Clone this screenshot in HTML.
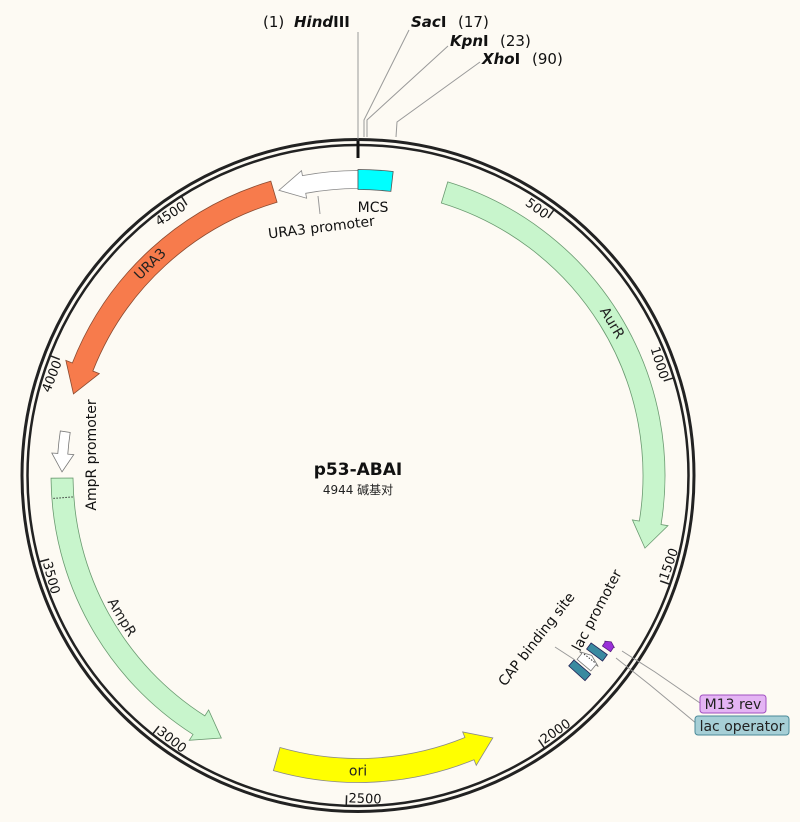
<!DOCTYPE html>
<html><head><meta charset="utf-8">
<style>
html,body{margin:0;padding:0;background:#fdfaf3;}
svg{display:block;font-family:"DejaVu Sans","Liberation Sans","Noto Sans CJK SC",sans-serif;}
</style></head>
<body>
<svg id="s" width="800" height="822" viewBox="0 0 800 822" xmlns="http://www.w3.org/2000/svg">
<rect width="800" height="822" fill="#fdfaf3"/>
<circle cx="358" cy="475.5" r="336" fill="none" stroke="#222" stroke-width="3"/>
<circle cx="358" cy="475.5" r="330.5" fill="none" stroke="#222" stroke-width="2.5"/>
<line x1="358" y1="141" x2="358" y2="158" stroke="#111" stroke-width="3"/>
<g stroke="#999" stroke-width="1" fill="none">
<line x1="358" y1="32" x2="358" y2="139"/>
<polyline points="409,30 364,120 364,137"/>
<polyline points="448,46 367,120 367,137"/>
<polyline points="480,62 397,122 396,137"/>
</g>
<g font-size="15" fill="#111">
<text x="263" y="27">(1)</text>
<text x="294" y="27" font-weight="bold"><tspan font-style="italic">Hind</tspan>III</text>
<text x="411" y="27" font-weight="bold"><tspan font-style="italic">Sac</tspan>I</text>
<text x="458" y="27">(17)</text>
<text x="450" y="46" font-weight="bold"><tspan font-style="italic">Kpn</tspan>I</text>
<text x="500" y="46">(23)</text>
<text x="482" y="64" font-weight="bold"><tspan font-style="italic">Xho</tspan>I</text>
<text x="532" y="64">(90)</text>
</g>
<text x="358" y="475" text-anchor="middle" font-size="17" font-weight="bold" fill="#111">p53-ABAI</text>
<text x="358" y="494" text-anchor="middle" font-size="12" fill="#222">4944 碱基对</text>
<g id="feat"></g>
<g font-size="14" fill="#111">
<text transform="translate(505,687) rotate(-52)">CAP binding site</text>
<text transform="translate(580,652) rotate(-62)">lac promoter</text>
<text x="373" y="212" text-anchor="middle">MCS</text>
<text transform="translate(322,232) rotate(-7)" text-anchor="middle">URA3 promoter</text>
<text transform="translate(96,455) rotate(-90)" text-anchor="middle">AmpR promoter</text>
</g>
<g stroke="#999" stroke-width="1" fill="none">
<line x1="318" y1="196" x2="320" y2="214"/>
<polyline points="622,651 655,672 700,703"/>
<polyline points="616,658 650,685 697,724"/>
<line x1="555" y1="647" x2="575" y2="660"/>
</g>
<rect x="700" y="695" width="66" height="18" rx="3" fill="#e4b4f4" stroke="#a050c0"/>
<text x="733" y="709" text-anchor="middle" font-size="14" fill="#222">M13 rev</text>
<rect x="695" y="716" width="94" height="19" rx="3" fill="#a6cfd6" stroke="#4a8a98"/>
<text x="742" y="731" text-anchor="middle" font-size="14" fill="#222">lac operator</text>
</svg>
<script>
var cx=358,cy=475.5,NS="http://www.w3.org/2000/svg";
var g=document.getElementById('feat');
function P(d,r){var t=d*Math.PI/180;return [cx+r*Math.sin(t),cy-r*Math.cos(t)];}
function f(p){return p[0].toFixed(2)+","+p[1].toFixed(2);}
function arcTo(a,b,r){var large=Math.abs(b-a)>180?1:0;var sw=b>a?1:0;return " A"+r+","+r+" 0 "+large+" "+sw+" "+f(P(b,r));}
function add(tag,attrs,txt){var e=document.createElementNS(NS,tag);for(var k in attrs)e.setAttribute(k,attrs[k]);if(txt)e.textContent=txt;g.appendChild(e);return e;}
function arrow(s,t,ri,ro,hl,hw,fill,stroke){
 var dir=t>s?1:-1;var hb=t-dir*hl;var rm=(ri+ro)/2;
 var d="M"+f(P(s,ro))+arcTo(s,hb,ro)+" L"+f(P(hb,ro+hw))+" L"+f(P(t,rm))+" L"+f(P(hb,ri-hw))+" L"+f(P(hb,ri))+arcTo(hb,s,ri)+" Z";
 add('path',{d:d,fill:fill,stroke:stroke,'stroke-width':0.8});
}
function band(s,t,ri,ro,fill,stroke){
 var d="M"+f(P(s,ro))+arcTo(s,t,ro)+" L"+f(P(t,ri))+arcTo(t,s,ri)+" Z";
 add('path',{d:d,fill:fill,stroke:stroke,'stroke-width':0.8});
}
function deg(p){return p/4944*360;}
arrow(0,-15.5,287,305,5,5,"#ffffff","#888");
band(0,6.6,286,306,"#00ffff","#555");
arrow(-16.5,-74,285,307,5.5,7,"#f77b4c","#8a4a30");
arrow(-81.5,-89.3,291,301,3.5,6,"#ffffff","#777");
arrow(-90.5,-152.5,285,307,5,7,"#c8f5cc","#6a9a70");
var a1=P(-94.3,286),a2=P(-94.3,306);
add('line',{x1:a1[0],y1:a1[1],x2:a2[0],y2:a2[1],stroke:"#333","stroke-dasharray":"1.5,1.5"});
arrow(196,152.8,283,307,5,6,"#ffff00","#888");
arrow(17,104.2,285,307,5,7,"#c8f5cc","#6a9a70");
// lac region small features (radially elongated)
arrow(124.9,123.3,298,308,0.6,1,"#9a30d8","#5a2080");
band(125.7,127.2,287,307,"#3a8aa0","#225");
arrow(130,127.6,286,304,0.9,3,"#ffffff","#777");
var d1=P(128.3,288),d2=P(128.3,302);
add('line',{x1:d1[0],y1:d1[1],x2:d2[0],y2:d2[1],stroke:"#333","stroke-dasharray":"1.5,1.5"});
band(130.5,132.1,284,306,"#3a8aa0","#225");
function lab(d,r,txt,rot,fs){var p=P(d,r);add('text',{transform:"translate("+f(p)+") rotate("+rot+")","text-anchor":"middle","dominant-baseline":"central","font-size":fs||14,fill:"#222"},txt);}
lab(-44.5,296,"URA3",-44.5);
lab(59,296,"AurR",59);
lab(-121,276,"AmpR",59);
lab(180,296,"ori",0);
for(var k=1;k<=9;k++){
 var p=k*500,d=deg(p);
 var a=P(d,331),b=P(d,320);
 add('line',{x1:a[0],y1:a[1],x2:b[0],y2:b[1],stroke:"#222","stroke-width":1.5});
 var q=P(d,328);
 var flip=(d>90&&d<270);
 if(!flip){add('text',{transform:"translate("+f(q)+") rotate("+d+")","text-anchor":"end",x:-2,y:11,"font-size":13,fill:"#111"},""+p);}
 else{add('text',{transform:"translate("+f(q)+") rotate("+(d-180)+")","text-anchor":"start",x:2,y:-1,"font-size":13,fill:"#111"},""+p);}
}
</script>
</body></html>
